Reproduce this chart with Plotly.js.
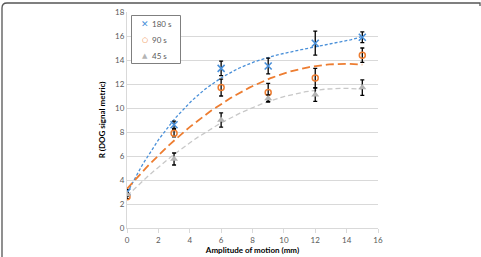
<!DOCTYPE html>
<html>
<head>
<meta charset="utf-8">
<script src="https://cdn.plot.ly/plotly-3.0.1.min.js"></script>
<style>html,body{margin:0;padding:0;background:#fff;}#chart{width:481px;height:257px;}</style>
</head>
<body>
<div id="chart"></div>
<script>
const amplitude = [0, 3, 6, 9, 12, 15];
const r180 = [3.0, 8.6, 13.3, 13.5, 15.4, 15.9];
const err180 = [0.2, 0.3, 0.6, 0.65, 1.0, 0.45];
const r90 = [2.6, 7.9, 11.7, 11.3, 12.5, 14.4];
const err90 = [0.15, 0.3, 0.7, 0.75, 0.8, 0.6];
const r45 = [2.8, 5.75, 9.0, 10.8, 11.1, 11.7];
const err45 = [0.15, 0.5, 0.6, 0.3, 0.55, 0.65];
const seriesNames = ['180 s', '90 s', '45 s'];
const legendGlyphs = ['✕', '○', '▲'];
const xTicks = [0, 2, 4, 6, 8, 10, 12, 14, 16];
const yTicks = [0, 2, 4, 6, 8, 10, 12, 14, 16, 18];

// least squares polynomial fit (Excel-style trendline)
function polyfit(xs, ys, deg) {
  const n = deg + 1;
  const A = [];
  for (let i = 0; i < n; i++) {
    A.push(new Array(n + 1).fill(0));
    for (let j = 0; j < n; j++) {
      let s = 0; for (let k = 0; k < xs.length; k++) s += Math.pow(xs[k], i + j);
      A[i][j] = s;
    }
    let s = 0; for (let k = 0; k < xs.length; k++) s += ys[k] * Math.pow(xs[k], i);
    A[i][n] = s;
  }
  for (let i = 0; i < n; i++) {
    let p = i;
    for (let r = i + 1; r < n; r++) if (Math.abs(A[r][i]) > Math.abs(A[p][i])) p = r;
    [A[i], A[p]] = [A[p], A[i]];
    for (let r = 0; r < n; r++) {
      if (r === i) continue;
      const f = A[r][i] / A[i][i];
      for (let c = i; c <= n; c++) A[r][c] -= f * A[i][c];
    }
  }
  return A.map((row, i) => row[n] / row[i]);
}
function trend(xs, ys, deg) {
  const c = polyfit(xs, ys, deg);
  const tx = [], ty = [];
  const x0 = xs[0], x1 = xs[xs.length - 1];
  for (let i = 0; i <= 100; i++) {
    const x = x0 + (x1 - x0) * i / 100;
    let y = 0; for (let j = 0; j < c.length; j++) y += c[j] * Math.pow(x, j);
    tx.push(x); ty.push(y);
  }
  return {x: tx, y: ty};
}

const cBlue = '#4A90D9', cOrange = '#ED7D31', cGray = '#B4B4B4';
const colors = [cBlue, cOrange, cGray];
const t180 = trend(amplitude, r180, 3);
const t90 = trend(amplitude, r90, 2);
const t45 = trend(amplitude, r45, 2);

const traces = [
  {x: t180.x, y: t180.y, mode: 'lines', line: {color: cBlue, width: 1.3, dash: '3px,2px'}, showlegend: false, hoverinfo: 'skip'},
  {x: t90.x, y: t90.y, mode: 'lines', line: {color: cOrange, width: 1.8, dash: '8px,4px'}, showlegend: false, hoverinfo: 'skip'},
  {x: t45.x, y: t45.y, mode: 'lines', line: {color: '#C8C8C8', width: 1.3, dash: '5px,3px'}, showlegend: false, hoverinfo: 'skip'},
  {x: amplitude, y: r180, name: seriesNames[0], mode: 'markers',
   marker: {symbol: 'x-thin', size: 7, line: {color: cBlue, width: 1.6}, color: cBlue},
   error_y: {type: 'data', array: err180, color: '#000', thickness: 1.3, width: 2}},
  {x: amplitude, y: r90, name: seriesNames[1], mode: 'markers',
   marker: {symbol: 'circle-open', size: 6, line: {color: cOrange, width: 1.5}, color: cOrange},
   error_y: {type: 'data', array: err90, color: '#000', thickness: 1.3, width: 2}},
  {x: amplitude, y: r45, name: seriesNames[2], mode: 'markers',
   marker: {symbol: 'triangle-up', size: 7, color: cGray},
   error_y: {type: 'data', array: err45, color: '#000', thickness: 1.3, width: 2}}
];

const L = 127, R = 378, T = 12, B = 228;
const px = v => (v - L) / (R - L);
const py = v => (B - v) / (B - T);

const fontFam = 'Lato, "Liberation Sans", sans-serif';
const annotations = [];
const glyphSizes = [9, 7, 7];
seriesNames.forEach((nm, i) => {
  const yy = py(24 + 16 * i);
  annotations.push({xref: 'paper', yref: 'paper', x: px(145), y: yy, xanchor: 'center', yanchor: 'middle',
    text: legendGlyphs[i], showarrow: false, font: {family: 'DejaVu Sans', size: glyphSizes[i], color: colors[i], weight: 'bold'}});
  annotations.push({xref: 'paper', yref: 'paper', x: px(149.5), y: yy, xanchor: 'left', yanchor: 'middle',
    text: nm, showarrow: false, font: {family: fontFam, size: 8, color: '#595959'}});
});

const layout = {
  width: 481, height: 257,
  margin: {l: L, r: 481 - R, t: T, b: 257 - B, pad: 0},
  paper_bgcolor: '#fff', plot_bgcolor: '#fff',
  font: {family: fontFam, size: 8, color: '#595959'},
  showlegend: false,
  xaxis: {range: [0, 16], tickvals: xTicks, ticktext: xTicks.map(String),
    showgrid: false, zeroline: false, showline: true, linecolor: '#D9D9D9', linewidth: 1,
    ticks: 'outside', ticklen: 4, tickcolor: '#D9D9D9', tickfont: {size: 8, color: '#595959'},
    title: {text: 'Amplitude of motion (mm)', font: {size: 8, color: '#000', family: fontFam, weight: 'bold'}, standoff: 3}},
  yaxis: {range: [0, 18], tickvals: yTicks, ticktext: yTicks.map(String),
    showgrid: true, gridcolor: '#D9D9D9', gridwidth: 1, zeroline: false,
    showline: true, linecolor: '#D9D9D9', linewidth: 1, ticks: '', ticklen: 0,
    tickfont: {size: 8, color: '#595959'},
    title: {text: 'R (DOG signal metric)', font: {size: 8, color: '#000', family: fontFam, weight: 'bold'}, standoff: 8}},
  annotations: annotations,
  shapes: [
    {type: 'path', xref: 'paper', yref: 'paper',
     path: `M ${px(2)},${py(258)} L ${px(2)},${py(8)} Q ${px(2)},${py(3)} ${px(7)},${py(3)} L ${px(480)},${py(3)} L ${px(480)},${py(6)}`,
     line: {color: '#555', width: 1.3}},
    {type: 'rect', xref: 'paper', yref: 'paper', x0: px(131.5), x1: px(180.5), y0: py(15.5), y1: py(63.5),
     line: {color: '#7F7F7F', width: 1}, fillcolor: '#fff', layer: 'above'}
  ]
};

Plotly.newPlot('chart', traces, layout, {staticPlot: true, displayModeBar: false});
</script>
</body>
</html>
